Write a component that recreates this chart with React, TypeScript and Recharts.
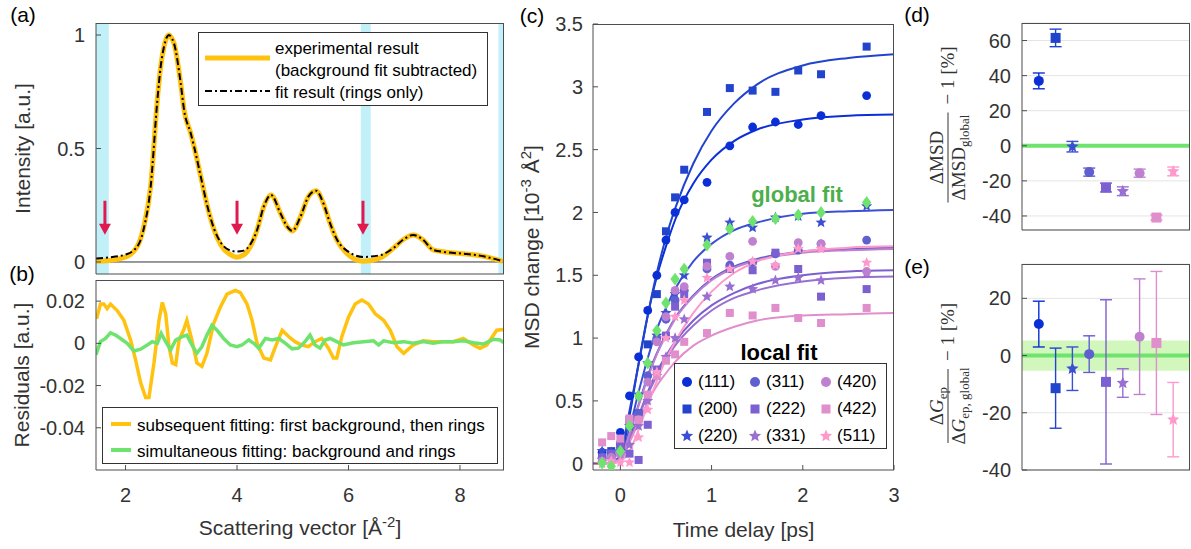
import React from "react";
import {
  ComposedChart,
  Line,
  Scatter,
  XAxis,
  YAxis,
  ReferenceArea,
  ReferenceLine,
  ReferenceDot,
  ErrorBar,
  CartesianGrid,
} from "recharts";

// ---- (a) normalised intensity vs scattering vector ----
const qGrid = [
  1.47, 1.7, 2.03, 2.24, 2.33, 2.45, 2.57, 2.63, 2.69, 2.74, 2.78, 2.82, 2.87, 2.99, 3.05, 3.17, 3.23,
  3.35, 3.47, 3.59, 3.71, 3.89, 3.99, 4.12, 4.24, 4.36, 4.48, 4.61, 4.78, 4.9, 4.99, 5.14, 5.28,
  5.42, 5.55, 5.67, 5.79, 5.97, 6.27, 6.57, 6.81, 6.99, 7.16, 7.34, 7.52, 7.76, 8.12, 8.42, 8.77,
];
const intensityExp = [
  0.003, 0.006, 0.025, 0.084, 0.158, 0.332, 0.713, 0.86, 0.948, 0.99, 1.0, 0.99, 0.963, 0.787, 0.67,
  0.567, 0.508, 0.376, 0.244, 0.141, 0.075, 0.031, 0.021, 0.031, 0.068, 0.141, 0.244, 0.295, 0.214,
  0.156, 0.137, 0.2, 0.288, 0.314, 0.258, 0.17, 0.097, 0.038, 0.003, 0.018, 0.062, 0.1, 0.119, 0.097,
  0.053, 0.043, 0.035, 0.025, 0.003,
];
const intensityFit = [
  0.015, 0.02, 0.035, 0.08, 0.15, 0.33, 0.71, 0.86, 0.948, 0.99, 1.0, 0.99, 0.963, 0.787, 0.67,
  0.567, 0.508, 0.376, 0.244, 0.145, 0.085, 0.05, 0.046, 0.05, 0.078, 0.141, 0.244, 0.295, 0.214,
  0.156, 0.137, 0.2, 0.288, 0.314, 0.258, 0.17, 0.1, 0.05, 0.022, 0.03, 0.062, 0.1, 0.119, 0.097,
  0.053, 0.043, 0.035, 0.025, 0.003,
];
const bgWindows = [
  [1.47, 1.7],
  [6.22, 6.4],
  [8.69, 8.79],
];
const arrowQ = [1.63, 4.0, 6.26];
const arrowTip = 0.12;

// ---- (b) residuals ----
const qSeq = [
  1.48, 1.55, 1.61, 1.67, 1.73, 1.85, 1.97, 2.09, 2.18, 2.27, 2.36, 2.42, 2.51, 2.6, 2.66, 2.72, 2.78,
  2.84, 2.9, 2.96, 3.04, 3.1, 3.19, 3.28, 3.37, 3.46, 3.58, 3.7, 3.82, 3.97, 4.06, 4.18, 4.27, 4.36,
  4.48, 4.6, 4.69, 4.81, 4.93, 5.04, 5.16, 5.28, 5.4, 5.52, 5.64, 5.73, 5.79, 5.88, 6.0, 6.12, 6.24,
  6.36, 6.48, 6.63, 6.75, 6.87, 6.99, 7.16, 7.34, 7.52, 7.7, 7.88, 8.06, 8.24, 8.36, 8.48, 8.66, 8.78,
];
const residualSeq = [
  0.0116, 0.0186, 0.0186, 0.0165, 0.0186, 0.0155, 0.0109, 0.0016, -0.0078, -0.0186, -0.0256, -0.0256,
  -0.0093, 0.0109, 0.0194, 0.014, -0.0016, -0.0093, -0.0101, 0.0016, 0.0062, 0.0109, 0.0016, -0.0093,
  -0.0109, -0.0047, 0.0093, 0.0171, 0.0233, 0.0251, 0.024, 0.0186, 0.0109, 0.0, -0.007, -0.0078,
  -0.0016, 0.0062, 0.0031, 0.0008, -0.0008, -0.0016, 0.0008, 0.0023, -0.0023, -0.007, -0.007, 0.0031,
  0.0124, 0.0186, 0.0205, 0.0186, 0.014, 0.0109, 0.0062, -0.0016, -0.0047, -0.0008, 0.0012, 0.0008,
  0.0008, 0.0008, 0.0023, -0.0008, -0.0023, -0.0008, 0.0062, 0.0065,
];
const qSim = [
  1.47, 1.55, 1.64, 1.73, 1.82, 1.91, 2.03, 2.15, 2.27, 2.39, 2.48, 2.57, 2.64, 2.72, 2.81, 2.9, 3.01,
  3.1, 3.19, 3.28, 3.37, 3.46, 3.55, 3.64, 3.76, 3.88, 4.0, 4.09, 4.21, 4.3, 4.39, 4.51, 4.63, 4.75,
  4.87, 4.99, 5.1, 5.22, 5.31, 5.4, 5.49, 5.58, 5.67, 5.79, 5.91, 6.09, 6.27, 6.45, 6.54, 6.63, 6.81,
  6.99, 7.16, 7.34, 7.52, 7.7, 7.88, 8.06, 8.24, 8.42, 8.6, 8.72, 8.78,
];
const residualSim = [
  -0.0054, 0.0008, 0.0023, 0.005, 0.0039, 0.0023, 0.0, -0.0036, -0.0028, -0.0008, 0.0008, 0.0, 0.0047,
  0.0008, -0.0031, 0.0016, 0.0031, 0.0039, -0.0008, -0.0047, -0.0016, 0.0039, 0.0085, 0.0062, 0.0023,
  -0.0008, -0.0016, -0.0008, 0.0016, 0.0, -0.0023, 0.0023, 0.0016, 0.0023, 0.0, -0.0026, -0.0023,
  0.0008, 0.0039, -0.0008, -0.0023, 0.0016, 0.0023, 0.0008, -0.0008, 0.0003, 0.0008, 0.0012, -0.0008,
  0.0012, 0.0003, 0.0008, 0.0, 0.0008, 0.0, 0.0008, 0.0008, 0.0012, 0.0003, -0.0003, 0.0019, 0.0016,
  0.0003,
];

// ---- (c) MSD change vs time delay ----
const peakLabels = ["(111)", "(200)", "(220)", "(311)", "(222)", "(331)", "(420)", "(422)", "(511)"];
const delays = [-0.2, -0.1, 0, 0.1, 0.2, 0.3, 0.4, 0.5, 0.6, 0.7, 0.95, 1.2, 1.45, 1.7, 1.95, 2.2, 2.7];
const msd111 = [0.09, 0.07, 0.25, 0.54, 0.85, 1.22, 1.5, 1.78, 2.0, 2.1, 2.24, 2.53, 2.68, 2.72, 2.7, 2.77, 2.93];
const msd200 = [0.05, 0.1, 0.15, 0.35, 0.4, 0.95, 1.35, 1.85, 2.12, 2.34, 2.8, 2.99, 2.97, 2.96, 3.13, 3.1, 3.32];
const msd220 = [0.1, 0.09, 0.1, 0.3, 0.55, 0.8, 1.02, 1.2, 1.35, 1.5, 1.8, 1.92, 1.88, 1.96, 1.97, 1.92, 2.05];
const msd311 = [0.05, 0.05, 0.15, 0.3, 0.4, 0.7, 1.0, 1.15, 1.3, 1.38, 1.55, 1.58, 1.6, 1.67, 1.7, 1.75, 1.78];
const msd222 = [0.05, 0.08, 0.15, 0.08, 0.03, 0.31, 0.75, 1.02, 1.25, 1.35, 1.6, 1.55, 1.54, 1.68, 1.55, 1.33, 1.39];
const msd331 = [0.03, 0.05, 0.08, 0.15, 0.3, 0.5, 0.7, 0.85, 1.0, 1.15, 1.33, 1.41, 1.39, 1.46, 1.48, 1.46, 1.52];
const msd420 = [0.02, 0.05, 0.07, 0.33, 0.35, 0.65, 0.97, 1.17, 1.38, 1.41, 1.57, 1.65, 1.77, 1.57, 1.76, 1.75, 1.53];
const msd422 = [0.17, 0.22, 0.2, 0.36, 0.35, 0.55, 0.7, 0.82, 0.87, 0.97, 1.04, 1.2, 1.18, 1.24, 1.16, 1.12, 1.24];
const msd511 = [0.0, 0.02, 0.01, 0.01, 0.21, 0.43, 0.73, 1.0, 1.17, 1.3, 1.48, 1.55, 1.61, 1.58, 1.71, 1.71, 1.6];
const msdGlobal = [0.005, -0.02, 0.1, 0.3, 0.54, 0.8, 1.06, 1.28, 1.47, 1.55, 1.74, 1.87, 1.93, 1.95, 1.98, 2.0, 2.08];

const fitDelays = [-0.3, -0.1, 0, 0.1, 0.2, 0.3, 0.4, 0.5, 0.6, 0.8, 1.0, 1.25, 1.5, 2.0, 2.5, 3.0];
const fit111 = [0, 0.01, 0.06, 0.38, 0.8, 1.18, 1.49, 1.73, 1.94, 2.23, 2.42, 2.57, 2.66, 2.74, 2.77, 2.78];
const fit200 = [0, 0.01, 0.07, 0.42, 0.79, 1.18, 1.52, 1.8, 2.03, 2.39, 2.65, 2.87, 3.02, 3.17, 3.23, 3.26];
const fit220 = [0, 0.01, 0.05, 0.28, 0.57, 0.84, 1.07, 1.24, 1.39, 1.61, 1.75, 1.86, 1.92, 1.99, 2.01, 2.02];
const fit311 = [0, 0.01, 0.04, 0.24, 0.47, 0.7, 0.88, 1.03, 1.16, 1.34, 1.47, 1.57, 1.63, 1.69, 1.71, 1.72];
const fit222 = [0, 0.01, 0.04, 0.2, 0.38, 0.57, 0.73, 0.86, 0.97, 1.14, 1.26, 1.36, 1.43, 1.5, 1.53, 1.54];
const fit331 = [0, 0.01, 0.04, 0.19, 0.37, 0.55, 0.7, 0.83, 0.94, 1.1, 1.22, 1.32, 1.38, 1.45, 1.48, 1.49];
const fit420 = [0, 0.01, 0.04, 0.24, 0.46, 0.68, 0.87, 1.02, 1.15, 1.33, 1.46, 1.56, 1.62, 1.68, 1.7, 1.71];
const fit422 = [0, 0.01, 0.03, 0.17, 0.33, 0.49, 0.62, 0.72, 0.81, 0.94, 1.02, 1.09, 1.14, 1.18, 1.19, 1.2];
const fit511 = [0, 0, 0.02, 0.1, 0.27, 0.47, 0.66, 0.83, 0.97, 1.2, 1.37, 1.52, 1.61, 1.69, 1.72, 1.73];

// ---- (d) / (e) deviation from global fit, % ----
const msdDev = [37, 61.5, -0.5, -15, -23.8, -25.9, -15.6, -40.9, -14.6];
const msdDevErr = [4.5, 5, 3, 2.3, 2.5, 2.5, 2.3, 1.5, 2.5];
const gepDev = [11, -11.4, -4.6, 0.5, -9.2, -9.6, 6.6, 4.4, -22.4];
const gepDevErr = [8, 14, 7.6, 6.4, 28.7, 5, 20.2, 25, 13];
const gepGlobalErr = 5.3;

const msdSeries = [msd111, msd200, msd220, msd311, msd222, msd331, msd420, msd422, msd511];
const fitSeries = [fit111, fit200, fit220, fit311, fit222, fit331, fit420, fit422, fit511];

// styling
const FONT = '"Liberation Sans", Arial, Helvetica, sans-serif';
const SERIF = '"Liberation Serif", "DejaVu Serif", serif';
const AXIS = "#4d4d4d";
const TEXT = "#333";
const YELLOW = "#ffc20e";
const GREEN = "#6ee36e";
const CYAN = "#c2f0f8";
const RED = "#e0194f";
const GRID = "#e4e4e4";
const peakColors = ["#0a2fd6", "#2244cc", "#3b4fd4", "#5f5fd0", "#7c5fd0", "#9a6fd2", "#c080d0", "#e08fcc", "#ff99cc"];
type Kind = "circle" | "square" | "star" | "diamond";
const peakShapes: Kind[] = ["circle", "square", "star", "circle", "square", "star", "circle", "square", "star"];
const tickFont = { fontSize: 20, fill: TEXT };
const TITLE_SIZE = 21;

function Marker({ kind, cx, cy, r, color }: { kind: Kind; cx: number; cy: number; r: number; color: string }) {
  if (cx == null || cy == null) return <g />;
  if (kind === "circle") return <circle cx={cx} cy={cy} r={r} fill={color} />;
  if (kind === "square") return <rect x={cx - r} y={cy - r} width={2 * r} height={2 * r} fill={color} />;
  if (kind === "diamond")
    return (
      <polygon
        points={`${cx},${cy - r * 1.35} ${cx + r},${cy} ${cx},${cy + r * 1.35} ${cx - r},${cy}`}
        fill={color}
      />
    );
  const pts: string[] = [];
  for (let k = 0; k < 10; k++) {
    const rad = k % 2 === 0 ? r : r * 0.45;
    const a = -Math.PI / 2 + (k * Math.PI) / 5;
    pts.push(`${(cx + rad * Math.cos(a)).toFixed(2)},${(cy + rad * Math.sin(a)).toFixed(2)}`);
  }
  return <polygon points={pts.join(" ")} fill={color} />;
}

const shapeOf = (kind: Kind, r: number, color: string) => (p: any) =>
  <Marker kind={kind} cx={p.cx} cy={p.cy} r={r} color={color} />;

const markerSize = (kind: Kind, big: boolean) => {
  if (kind === "circle") return big ? 5 : 4.4;
  if (kind === "square") return big ? 5 : 4;
  if (kind === "star") return big ? 6.5 : 5.8;
  return 4.7;
};

const ArrowShape = (p: any) => (
  <g>
    <line x1={p.cx} y1={p.cy - 34} x2={p.cx} y2={p.cy - 9} stroke={RED} strokeWidth={3} />
    <polygon points={`${p.cx - 6},${p.cy - 11} ${p.cx + 6},${p.cy - 11} ${p.cx},${p.cy}`} fill={RED} />
  </g>
);

type Part = [string, "sup" | "sub" | null];

function renderParts(parts: Part[]) {
  let shift = 0;
  return parts.map(([txt, kind], k) => {
    const target = kind === "sup" ? -8 : kind === "sub" ? 4 : 0;
    const d = target - shift;
    shift = target;
    return (
      <tspan key={k} dy={d} fontSize={kind ? 15 : TITLE_SIZE}>
        {txt}
      </tspan>
    );
  });
}

function RotTitle(props: any) {
  const { viewBox, dx, parts } = props;
  const x = viewBox.x + viewBox.width + dx;
  const y = viewBox.y + viewBox.height / 2;
  return (
    <text x={x} y={y + 7} transform={`rotate(-90 ${x} ${y})`} textAnchor="middle" fontSize={TITLE_SIZE} fill={TEXT}>
      {renderParts(parts)}
    </text>
  );
}

function XTitle(props: any) {
  const { viewBox, dy, parts } = props;
  const x = viewBox.x + viewBox.width / 2;
  const y = viewBox.y + dy;
  return (
    <text x={x} y={y + 7} textAnchor="middle" fontSize={TITLE_SIZE} fill={TEXT}>
      {renderParts(parts)}
    </text>
  );
}

function FracTitle(props: any) {
  const { viewBox, variant } = props;
  const ax = viewBox.x + 28;
  const ay = viewBox.y + viewBox.height / 2 + 76;
  const bar = variant === "msd" ? 90 : 74;
  return (
    <g transform={`translate(${ax} ${ay}) rotate(-90)`} fontFamily={SERIF} fill={TEXT}>
      {variant === "msd" ? (
        <>
          <text x={bar / 2} y={-5} textAnchor="middle" fontSize={19}>ΔMSD</text>
          <text x={bar / 2} y={17} textAnchor="middle" fontSize={19}>
            ΔMSD<tspan dy={4} fontSize={13}>global</tspan>
          </text>
        </>
      ) : (
        <>
          <text x={bar / 2} y={-5} textAnchor="middle" fontSize={19}>
            Δ<tspan fontStyle="italic">G</tspan>
            <tspan dy={4} fontSize={13}>ep</tspan>
          </text>
          <text x={bar / 2} y={17} textAnchor="middle" fontSize={19}>
            Δ<tspan fontStyle="italic">G</tspan>
            <tspan dy={4} fontSize={13}>ep, global</tspan>
          </text>
        </>
      )}
      <line x1={0} x2={bar} y1={0} y2={0} stroke={TEXT} strokeWidth={1} />
      <text x={bar + 8} y={6} fontSize={19}>
        {"\u2212 1 [%]"}
      </text>
    </g>
  );
}

function PanelA() {
  const rows = qGrid.map((q, k) => ({ q, exp: intensityExp[k], fit: intensityFit[k] }));
  const xd = [1.47, 8.79];
  const yd = [-0.053, 1.053];
  return (
    <ComposedChart width={520} height={280} data={rows} margin={{ top: 23, right: 16, bottom: 5, left: 36 }}>
      {bgWindows.map(([a, b], k) => (
        <ReferenceArea key={k} x1={a} x2={b} fill={CYAN} fillOpacity={1} stroke="none" />
      ))}
      <ReferenceLine y={0} stroke="#333" strokeWidth={1} />
      <XAxis type="number" dataKey="q" domain={xd} ticks={[2, 4, 6, 8]} allowDataOverflow interval={0}
        height={1} tick={false} tickSize={-5} stroke={AXIS} />
      <YAxis type="number" domain={yd} ticks={[0, 0.5, 1]} allowDataOverflow interval={0} width={60}
        tickSize={-5} tickMargin={16} tick={tickFont} stroke={AXIS}
        label={<RotTitle dx={-73} parts={[["Intensity [a.u.]", null]]} />} />
      <Line dataKey="exp" type="monotone" stroke={YELLOW} strokeWidth={5} dot={false} activeDot={false} isAnimationActive={false} />
      <Line dataKey="fit" type="monotone" stroke="#000" strokeWidth={2} strokeDasharray="7 3 2 3" dot={false} activeDot={false} isAnimationActive={false} />
      {arrowQ.map((q) => (
        <ReferenceDot key={q} x={q} y={arrowTip} r={0} shape={ArrowShape} />
      ))}
    </ComposedChart>
  );
}

function PanelB() {
  const xd = [1.47, 8.79];
  const yd = [-0.06, 0.03];
  const yt = [-0.04, -0.02, 0, 0.02];
  const seq = qSeq.map((q, k) => ({ q, r: residualSeq[k] }));
  const sim = qSim.map((q, k) => ({ q, r: residualSim[k] }));
  return (
    <ComposedChart width={520} height={275} margin={{ top: 6, right: 16, bottom: 0, left: 36 }}>
      <XAxis type="number" dataKey="q" domain={xd} ticks={[2, 4, 6, 8]} allowDataOverflow interval={0}
        height={79} tickSize={-5} tickMargin={23} tick={tickFont} stroke={AXIS}
        label={<XTitle dy={58} parts={[["Scattering vector [Å", null], ["-2", "sup"], ["]", null]]} />} />
      <YAxis type="number" domain={yd} ticks={yt} allowDataOverflow interval={0} width={60}
        tickSize={-5} tickMargin={16} tick={tickFont} stroke={AXIS}
        label={<RotTitle dx={-74} parts={[["Residuals [a.u.]", null]]} />} />
      <Line data={seq} dataKey="r" type="linear" stroke={YELLOW} strokeWidth={3.5} dot={false} activeDot={false} isAnimationActive={false} />
      <Line data={sim} dataKey="r" type="linear" stroke={GREEN} strokeWidth={3.5} dot={false} activeDot={false} isAnimationActive={false} />
    </ComposedChart>
  );
}

function PanelC() {
  const xd = [-0.3, 3];
  const yd = [-0.05, 3.5];
  const yt = [0, 0.5, 1, 1.5, 2, 2.5, 3, 3.5];
  return (
    <ComposedChart width={400} height={549} margin={{ top: 24, right: 16, bottom: 0, left: 0 }}>
      <XAxis type="number" dataKey="t" domain={xd} ticks={[0, 1, 2, 3]} allowDataOverflow interval={0}
        height={79} tickSize={-5} tickMargin={23} tick={tickFont} stroke={AXIS}
        label={<XTitle dy={60} parts={[["Time delay [ps]", null]]} />} />
      <YAxis type="number" dataKey="v" domain={yd} ticks={yt} allowDataOverflow interval={0} width={83}
        tickSize={-5} tickMargin={15} tick={tickFont} stroke={AXIS}
        label={<RotTitle dx={-61} parts={[["MSD change [10", null], ["-3", "sup"], [" Å", null], ["2", "sup"], ["]", null]]} />} />
      {fitSeries.map((fit, k) => (
        <Line key={`f${k}`} data={fitDelays.map((t, j) => ({ t, v: fit[j] }))} dataKey="v" type="monotone"
          stroke={peakColors[k]} strokeWidth={2} dot={false} activeDot={false} isAnimationActive={false} />
      ))}
      {msdSeries.map((vals, k) => (
        <Scatter key={peakLabels[k]} data={delays.map((t, j) => ({ t, v: vals[j] }))}
          shape={shapeOf(peakShapes[k], markerSize(peakShapes[k], false), peakColors[k])} isAnimationActive={false} />
      ))}
      <Scatter data={delays.map((t, j) => ({ t, v: msdGlobal[j] }))}
        shape={shapeOf("diamond", 4.7, GREEN)} isAnimationActive={false} />
    </ComposedChart>
  );
}

function DevPanel({ vals, errs, yd, yt, variant, height, top }: any) {
  return (
    <ComposedChart width={271} height={height} margin={{ top, right: 1, bottom: 9, left: 0 }}>
      <CartesianGrid vertical={false} stroke={GRID} />
      {variant === "gep" && (
        <ReferenceArea y1={-gepGlobalErr} y2={gepGlobalErr} fill="#d2f7bd" fillOpacity={1} stroke="none" />
      )}
      <ReferenceLine y={0} stroke={GREEN} strokeWidth={4} />
      <XAxis type="number" dataKey="x" domain={[0, 10]} ticks={[0, 10]} allowDataOverflow interval={0}
        height={1} tick={false} tickLine={false} stroke={AXIS} />
      <YAxis type="number" dataKey="y" domain={yd} ticks={yt} allowDataOverflow interval={0} width={102}
        tickSize={-5} tickMargin={16} tick={tickFont} stroke={AXIS}
        label={<FracTitle variant={variant} />} />
      {peakLabels.map((lab, k) => (
        <Scatter key={lab} data={[{ x: k + 1, y: vals[k], e: errs[k] }]}
          shape={shapeOf(peakShapes[k], markerSize(peakShapes[k], true), peakColors[k])} isAnimationActive={false}>
          <ErrorBar dataKey="e" direction="y" width={6} stroke={peakColors[k]} strokeWidth={1.4} />
        </Scatter>
      ))}
    </ComposedChart>
  );
}

const abs = (left: number, top: number, extra: React.CSSProperties = {}): React.CSSProperties => ({
  position: "absolute",
  left,
  top,
  ...extra,
});

// top and right edges of a plot box (left/bottom come from the axes)
function BoxEdge({ x, y, w, h }: { x: number; y: number; w: number; h: number }) {
  return (
    <div
      style={abs(x, y, {
        width: w,
        height: h,
        boxSizing: "border-box",
        borderTop: `1px solid ${AXIS}`,
        borderRight: `1px solid ${AXIS}`,
        pointerEvents: "none",
      })}
    />
  );
}

function PanelLetter({ x, y, children }: { x: number; y: number; children: string }) {
  return (
    <div style={abs(x, y, { fontSize: 21, color: "#000", transform: "translate(-50%, -50%)", lineHeight: 1 })}>
      {children}
    </div>
  );
}

function LegendA() {
  return (
    <div style={abs(198, 32, { width: 290, height: 74, border: "1px solid #333", background: "#fff", boxSizing: "border-box", fontSize: 17, color: "#000" })}>
      <svg width={80} height={74} style={abs(0, 0)}>
        <line x1={6} x2={71} y1={25} y2={25} stroke={YELLOW} strokeWidth={5} />
        <line x1={6} x2={71} y1={58} y2={58} stroke="#000" strokeWidth={2} strokeDasharray="7 3 2 3" />
      </svg>
      <div style={abs(76, 5, { lineHeight: "22px", whiteSpace: "nowrap" })}>
        experimental result
        <br />
        (background fit subtracted)
        <br />
        fit result (rings only)
      </div>
    </div>
  );
}

function LegendB() {
  return (
    <div style={abs(102, 407, { width: 396, height: 57, border: "1px solid #333", background: "#fff", boxSizing: "border-box", fontSize: 17, color: "#000" })}>
      <svg width={34} height={57} style={abs(0, 0)}>
        <line x1={8} x2={28} y1={16} y2={16} stroke={YELLOW} strokeWidth={4} />
        <line x1={8} x2={28} y1={42} y2={42} stroke={GREEN} strokeWidth={4} />
      </svg>
      <div style={abs(34, 5, { lineHeight: "26px", whiteSpace: "nowrap" })}>
        subsequent fitting: first background, then rings
        <br />
        simultaneous fitting: background and rings
      </div>
    </div>
  );
}

function LegendC() {
  return (
    <div style={abs(674, 363, { width: 213, height: 86, border: "1px solid #333", background: "#fff", boxSizing: "border-box", fontSize: 17, color: "#000" })}>
      {peakLabels.map((lab, k) => {
        const col = Math.floor(k / 3);
        const row = k % 3;
        const left = [4, 72, 143][col];
        const top = 6 + row * 27;
        return (
          <div key={lab} style={abs(left, top, { height: 24, display: "flex", alignItems: "center", whiteSpace: "nowrap" })}>
            <svg width={16} height={16} style={{ marginRight: 3 }}>
              <Marker kind={peakShapes[k]} cx={8} cy={8} r={peakShapes[k] === "star" ? 6.5 : peakShapes[k] === "square" ? 4.5 : 5} color={peakColors[k]} />
            </svg>
            {lab}
          </div>
        );
      })}
    </div>
  );
}

export default function App() {
  return (
    <div style={{ position: "absolute", left: 0, top: 0, width: 1191, height: 549, background: "#fff", fontFamily: FONT, overflow: "hidden" }}>
      <div style={abs(0, 0)}>
        <PanelA />
      </div>
      <div style={abs(0, 274)}>
        <PanelB />
      </div>
      <div style={abs(510, 0)}>
        <PanelC />
      </div>
      <div style={abs(920, 0)}>
        <DevPanel vals={msdDev} errs={msdDevErr} yd={[-48, 70]} yt={[-40, -20, 0, 20, 40, 60]} variant="msd" height={240} top={23} />
      </div>
      <div style={abs(920, 250)}>
        <DevPanel vals={gepDev} errs={gepDevErr} yd={[-40, 32]} yt={[-40, -20, 0, 20]} variant="gep" height={230} top={14} />
      </div>
      <BoxEdge x={96} y={23} w={408} h={251} />
      <BoxEdge x={96} y={280} w={408} h={190} />
      <BoxEdge x={593} y={24} w={301} h={446} />
      <BoxEdge x={1022} y={23} w={168} h={207} />
      <BoxEdge x={1022} y={264} w={168} h={206} />
      <LegendA />
      <LegendB />
      <LegendC />
      <div style={abs(779, 353, { fontSize: 22, fontWeight: "bold", color: "#000", transform: "translate(-50%, -50%)", whiteSpace: "nowrap" })}>
        local fit
      </div>
      <div style={abs(797, 195, { fontSize: 22, fontWeight: "bold", color: "#4caf4c", transform: "translate(-50%, -50%)", whiteSpace: "nowrap" })}>
        global fit
      </div>
      <PanelLetter x={23} y={14}>(a)</PanelLetter>
      <PanelLetter x={22} y={273}>(b)</PanelLetter>
      <PanelLetter x={532} y={15}>(c)</PanelLetter>
      <PanelLetter x={917} y={14}>(d)</PanelLetter>
      <PanelLetter x={917} y={266}>(e)</PanelLetter>
    </div>
  );
}
